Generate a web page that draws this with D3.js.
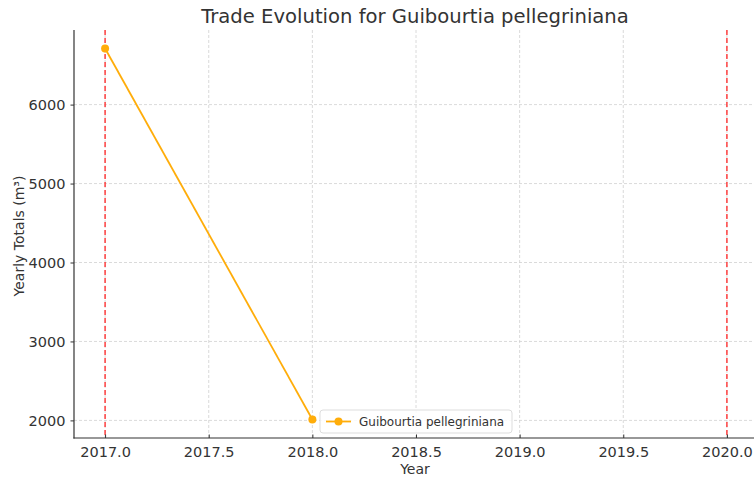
<!DOCTYPE html>
<html><head><meta charset="utf-8">
<script src="https://cdn.jsdelivr.net/npm/d3@7"></script>
<style>body{margin:0;background:#fff}text{font-family:"DejaVu Sans",sans-serif}</style>
</head><body><svg id="c" width="754" height="478"></svg>
<script>
const years = [2017, 2018];
const totals = [6710, 2012];
const refLines = [2017, 2020];
const xTicks = [2017.0, 2017.5, 2018.0, 2018.5, 2019.0, 2019.5, 2020.0];
const yTicks = [2000, 3000, 4000, 5000, 6000];
const seriesName = "Guibourtia pellegriniana";
const title = "Trade Evolution for Guibourtia pellegriniana";

const svg = d3.select("#c");
const L = 74, R = 758, T = 30, B = 438;
const xmin = 2017, xmax = 2020, xr = xmax - xmin;
const x = d3.scaleLinear().domain([xmin - 0.05*xr, xmax + 0.05*xr]).range([L, R]);
const ymn = d3.min(totals), ymx = d3.max(totals), yr = ymx - ymn;
const y = d3.scaleLinear().domain([ymn - 0.05*yr, ymx + 0.05*yr]).range([B, T]);
const txt = "#333";

// grid
svg.append("g").selectAll("line").data(xTicks).join("line")
  .attr("x1", d => x(d)).attr("x2", d => x(d)).attr("y1", T).attr("y2", B)
  .attr("stroke", "#d0d0d0").attr("stroke-width", 0.8).attr("stroke-dasharray", "3,2");
svg.append("g").selectAll("line").data(yTicks).join("line")
  .attr("x1", L).attr("x2", R).attr("y1", d => y(d)).attr("y2", d => y(d))
  .attr("stroke", "#d0d0d0").attr("stroke-width", 0.8).attr("stroke-dasharray", "3,2");

// reference lines
svg.append("g").selectAll("line").data(refLines).join("line")
  .attr("x1", d => x(d)).attr("x2", d => x(d)).attr("y1", T).attr("y2", B)
  .attr("stroke", "#ff3333").attr("stroke-width", 1.4).attr("stroke-dasharray", "5,3");

// axes
const xa = svg.append("g").attr("transform", `translate(0,${B})`)
  .call(d3.axisBottom(x).tickValues(xTicks).tickFormat(d3.format(".1f")).tickSizeOuter(0).tickSize(-3.5).tickPadding(9));
const ya = svg.append("g").attr("transform", `translate(${L},0)`)
  .call(d3.axisLeft(y).tickValues(yTicks).tickFormat(d3.format("d")).tickSizeOuter(0).tickSize(3.5).tickPadding(5));
[xa, ya].forEach(a => {
  a.select(".domain").remove();
  a.selectAll(".tick line").attr("stroke", txt).attr("stroke-width", 1);
  a.selectAll(".tick text").attr("fill", txt).style("font-size", "14.5px").style("font-family", "DejaVu Sans");
});
svg.append("line").attr("x1", L).attr("x2", L).attr("y1", T).attr("y2", B + 0.6)
  .attr("stroke", txt).attr("stroke-width", 1.2);
svg.append("line").attr("x1", L - 0.6).attr("x2", R).attr("y1", B).attr("y2", B)
  .attr("stroke", txt).attr("stroke-width", 1.2);

// line
const pts = years.map((d, i) => [d, totals[i]]);
svg.append("path").datum(pts)
  .attr("d", d3.line().x(d => x(d[0])).y(d => y(d[1])))
  .attr("fill", "none").attr("stroke", "#ffad0a").attr("stroke-width", 1.8);
svg.append("g").selectAll("circle").data(pts).join("circle")
  .attr("cx", d => x(d[0])).attr("cy", d => y(d[1])).attr("r", 4).attr("fill", "#ffad0a");

// titles
svg.append("text").attr("x", 415).attr("y", 23).attr("text-anchor", "middle")
  .attr("fill", txt).style("font-size", "19.6px").text(title);
svg.append("text").attr("x", 415).attr("y", 474).attr("text-anchor", "middle")
  .attr("fill", txt).style("font-size", "14px").text("Year");
svg.append("text").attr("transform", "translate(24,236) rotate(-90)").attr("text-anchor", "middle")
  .attr("fill", txt).style("font-size", "14px").text("Yearly Totals (m³)");

// legend
const lg = svg.append("g").attr("transform", "translate(320,410)");
lg.append("rect").attr("width", 192).attr("height", 23).attr("rx", 3)
  .attr("fill", "#fff").attr("fill-opacity", 0.85).attr("stroke", "#ddd");
lg.append("line").attr("x1", 6).attr("x2", 31).attr("y1", 11.5).attr("y2", 11.5)
  .attr("stroke", "#ffad0a").attr("stroke-width", 1.8);
lg.append("circle").attr("cx", 18.5).attr("cy", 11.5).attr("r", 4).attr("fill", "#ffad0a");
lg.append("text").attr("x", 39).attr("y", 16).attr("fill", txt).style("font-size", "12px").text(seriesName);
</script></body></html>
